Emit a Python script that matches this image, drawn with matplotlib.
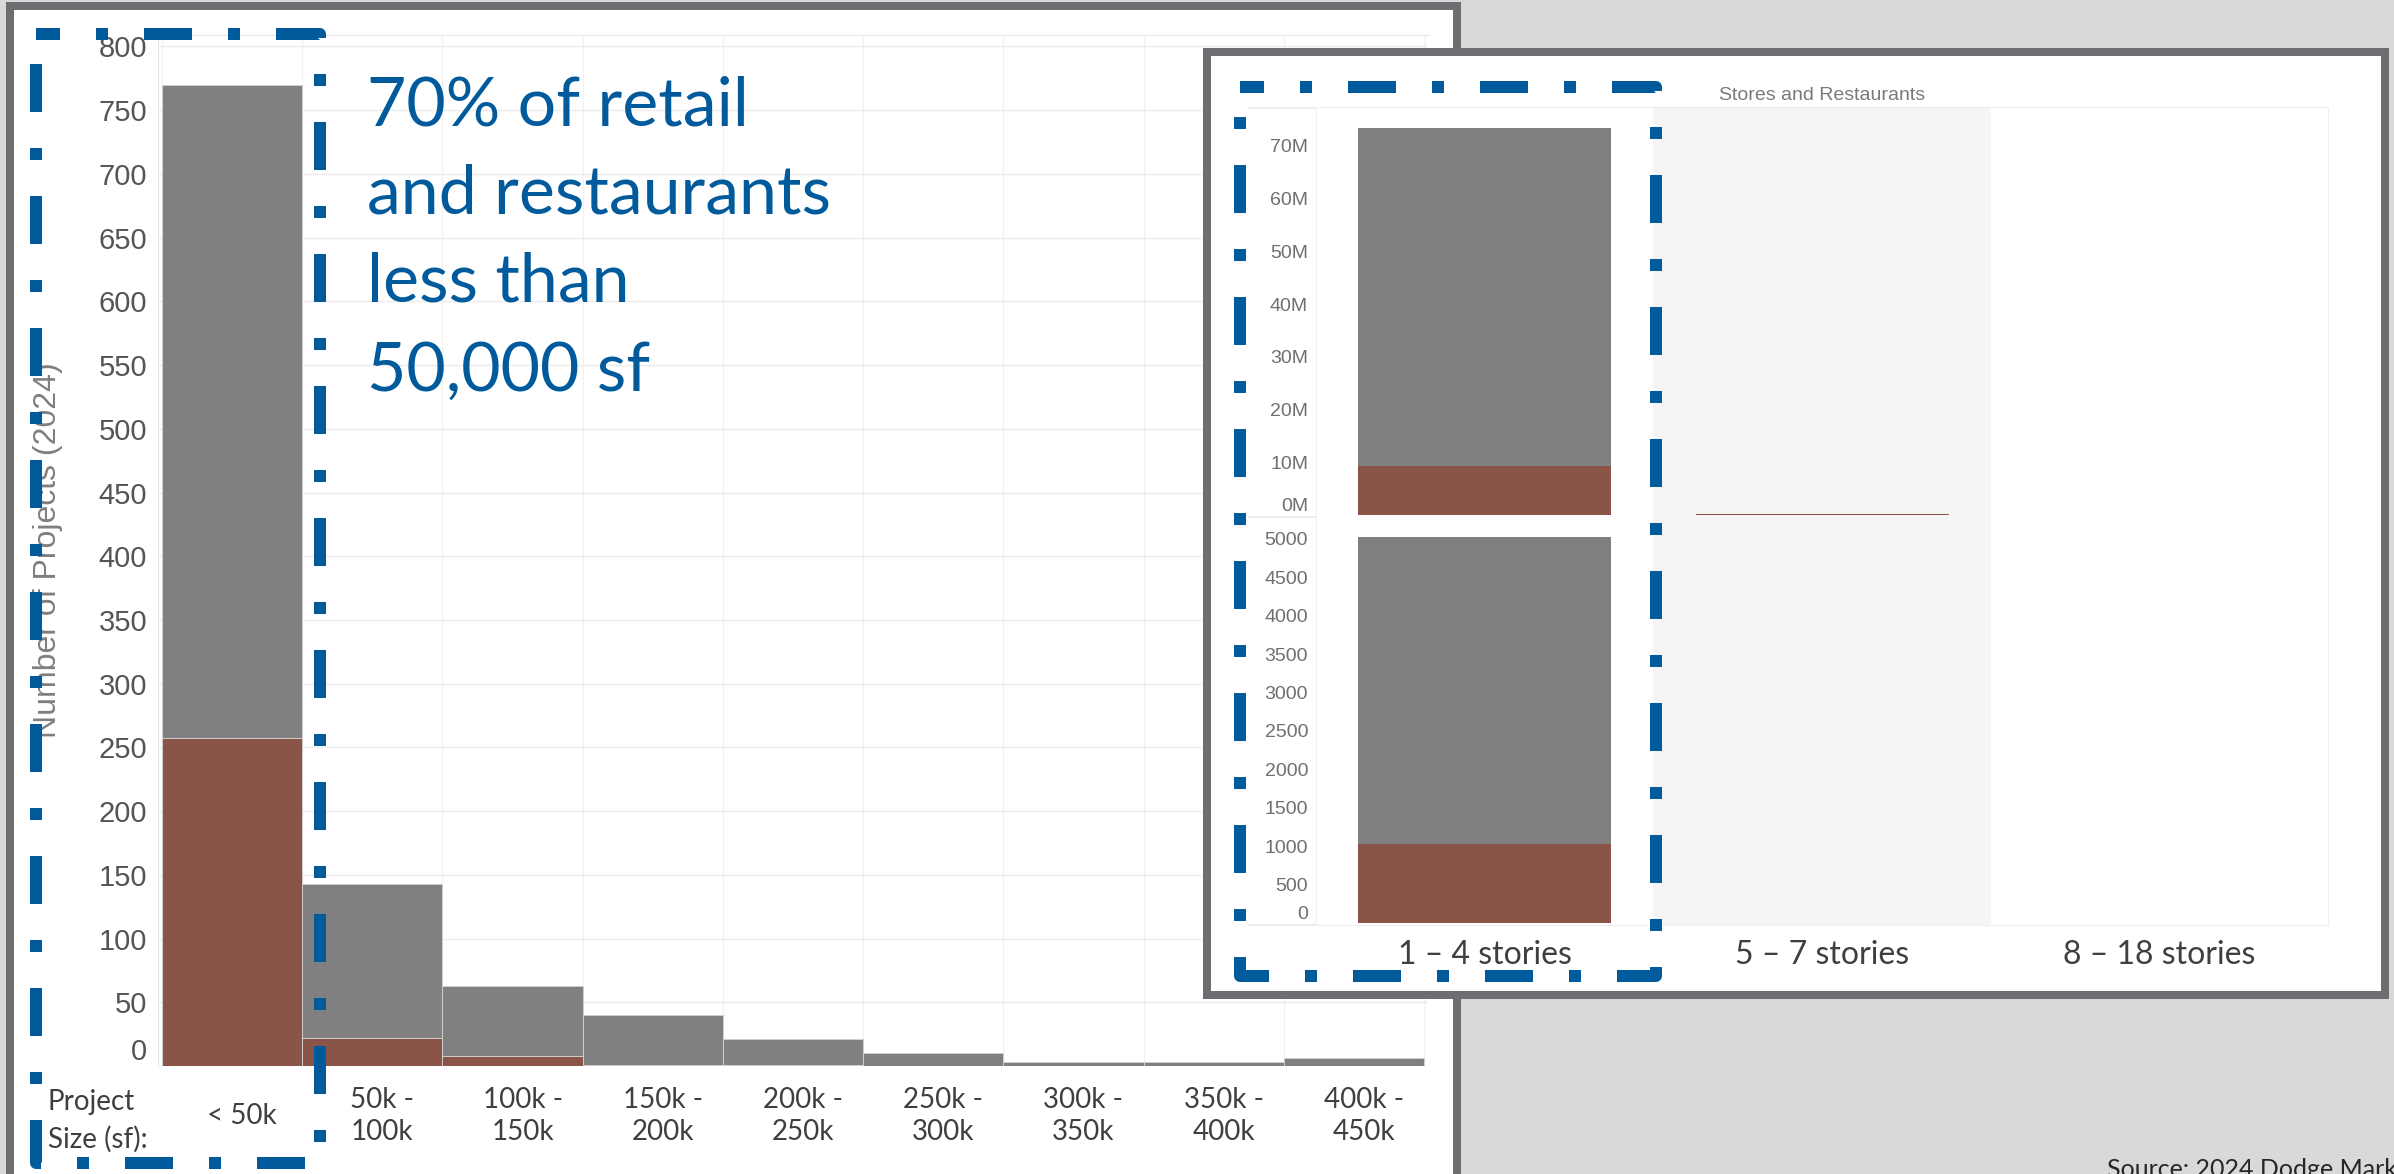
import matplotlib
matplotlib.use("Agg")
import matplotlib.pyplot as plt
import numpy as np
from matplotlib.patches import Rectangle
from matplotlib.ticker import FuncFormatter
from matplotlib.transforms import ScaledTranslation

W, H = 2394, 1174
DPI = 100
PT = 72 / DPI  # points per pixel

# --- data ---
size_bins = ["< 50k", "50k -\n100k", "100k -\n150k", "150k -\n200k", "200k -\n250k",
             "250k -\n300k", "300k -\n350k", "350k -\n400k", "400k -\n450k"]
all_projects = [770, 143, 63, 40, 21, 10, 3, 3, 6]
highlighted_projects = [257, 22, 8, 1, 1, 0, 0, 0, 0]
size_ticks = list(range(0, 801, 50))

story_bins = ["1 \u2013 4 stories", "5 \u2013 7 stories", "8 \u2013 18 stories"]
value_all = [73.4e6, 0.15e6, 0]
value_highlighted = [9.3e6, 0.15e6, 0]
value_ticks = [0, 10e6, 20e6, 30e6, 40e6, 50e6, 60e6, 70e6]
count_all = [5030, 0, 0]
count_highlighted = [1030, 0, 0]
count_ticks = list(range(0, 5001, 500))

callout_lines = ["70% of retail", "and restaurants", "less than", "50,000 sf"]

GRAY = "#808080"
RUST = "#8a5548"
BLUE = "#005a9c"
FRAME = "#6d6e71"
BACKDROP = "#d9d9d9"
GRID = "#ebebeb"


def box(x0, y0, x1, y1):
    return [x0 / W, 1 - y1 / H, (x1 - x0) / W, (y1 - y0) / H]


def canvas(figure, z):
    axis = figure.add_axes([0, 0, 1, 1], zorder=z)
    axis.set_xlim(0, W)
    axis.set_ylim(H, 0)
    axis.axis("off")
    return axis


def panel(axis, x0, y0, x1, y1):
    axis.add_patch(Rectangle((x0, y0), x1 - x0, y1 - y0, facecolor="white",
                             edgecolor=FRAME, linewidth=8 * PT, clip_on=False))


def dash_box(axis, x0, y0, x1, y1):
    axis.plot([x0, x1, x1, x0, x0], [y0, y0, y1, y1, y0], color=BLUE,
              linewidth=12 * PT, linestyle=(2, (4, 3, 1, 3)),
              dash_capstyle="butt", solid_capstyle="butt", clip_on=False)


figure = plt.figure(figsize=(W / DPI, H / DPI), dpi=DPI, facecolor=BACKDROP)

# back layer: main panel
back = canvas(figure, 0)
panel(back, 10, 6, 1457, 1220)

# --- main histogram ---
chart = figure.add_axes(box(158, 35, 1428, 1066), zorder=1)
positions = np.arange(len(size_bins))
upper = np.array(all_projects) - np.array(highlighted_projects)
chart.bar(positions, highlighted_projects, width=1, color=RUST,
          edgecolor="#cfcfcf", linewidth=0.7, zorder=3)
chart.bar(positions, upper, bottom=highlighted_projects, width=1, color=GRAY,
          edgecolor="#cfcfcf", linewidth=0.7, zorder=3)
chart.set_xlim(-0.529, 8.529)
chart.set_ylim(0, 809)
chart.set_yticks(size_ticks)
chart.set_xticks(positions)
chart.set_xticklabels(size_bins)
chart.set_xticks(np.arange(-0.5, len(size_bins), 1), minor=True)
chart.grid(axis="y", which="major", color=GRID, linewidth=1, zorder=0)
chart.grid(axis="x", which="minor", color="#f2f2f2", linewidth=1, zorder=0)
chart.tick_params(axis="both", which="both", length=0)
chart.tick_params(axis="y", labelsize=21, labelcolor="#555555", pad=11 * PT)
chart.tick_params(axis="x", labelsize=20, labelcolor="#3f3f3f", pad=50 * PT)
for label in chart.get_yticklabels():
    label.set_family("Liberation Sans")
chart.get_yticklabels()[0].set_va("bottom")
shift = ScaledTranslation(10 / DPI, 0, figure.dpi_scale_trans)
for label in chart.get_xticklabels():
    label.set_family("Lato")
    label.set_va("center")
    label.set_linespacing(1.3)
    label.set_transform(label.get_transform() + shift)
for side in ["right", "bottom"]:
    chart.spines[side].set_visible(False)
for side in ["top", "left"]:
    chart.spines[side].set_color("#e6e6e6")
chart.set_ylabel("Number of Projects (2024)", fontsize=23, color="#7f7f7f",
                 family="Liberation Sans")
chart.yaxis.set_label_coords(-0.075, 0.5)

# --- inset panel ---
inset_back = canvas(figure, 2)
panel(inset_back, 1207, 52, 2385, 995)
for y in [108, 517, 925]:
    inset_back.plot([1249, 2328], [y, y], color="#ececec", linewidth=2 * PT)

story_positions = np.arange(len(story_bins))
top = figure.add_axes(box(1316, 108, 2328, 517), zorder=3)
bottom = figure.add_axes(box(1316, 517, 2328, 925), zorder=3)

top.bar(story_positions, value_highlighted, width=0.75, color=RUST, zorder=3)
top.bar(story_positions, np.array(value_all) - np.array(value_highlighted),
        bottom=value_highlighted, width=0.75, color=GRAY, zorder=3)
top.set_ylim(-0.38e6, 77.2e6)
top.set_yticks(value_ticks)
top.yaxis.set_major_formatter(FuncFormatter(lambda v, _: f"{v / 1e6:.0f}M"))
top.set_xticks([])
top.set_title("Stores and Restaurants", fontsize=14, color="#7a7a7a",
              family="Liberation Sans", pad=6)

bottom.bar(story_positions, count_highlighted, width=0.75, color=RUST, zorder=3)
bottom.bar(story_positions, np.array(count_all) - np.array(count_highlighted),
           bottom=count_highlighted, width=0.75, color=GRAY, zorder=3)
bottom.set_ylim(-26, 5286)
bottom.set_yticks(count_ticks)
bottom.set_xticks(story_positions)
bottom.set_xticklabels(story_bins)

for axis in [top, bottom]:
    axis.set_xlim(-0.5, 2.5)
    axis.axvspan(0.5, 1.5, color="#f5f5f5", zorder=0, linewidth=0)
    axis.tick_params(axis="both", length=0)
    axis.tick_params(axis="y", labelsize=14, labelcolor="#6f6f6f", pad=8 * PT)
    for label in axis.get_yticklabels():
        label.set_family("Liberation Sans")
    axis.get_yticklabels()[0].set_va("bottom")
    for side in ["top", "bottom"]:
        axis.spines[side].set_visible(False)
    for side in ["left", "right"]:
        axis.spines[side].set_color("#efefef")

bottom.tick_params(axis="x", labelsize=23, labelcolor="#3f3f3f", pad=30 * PT)
for label in bottom.get_xticklabels():
    label.set_family("Lato")
    label.set_va("center")

# --- front layer: highlights and notes ---
front = canvas(figure, 4)
dash_box(front, 36, 34, 320, 1163)
dash_box(front, 1240, 87, 1656, 976)
for index, line in enumerate(callout_lines):
    front.text(367, 125 + index * 88.5, line, fontsize=49, color=BLUE,
               family="Lato", va="baseline", ha="left")
front.text(48, 1110, "Project", fontsize=20, color="#3f3f3f", family="Lato",
           va="baseline", ha="left")
front.text(48, 1148, "Size (sf):", fontsize=20, color="#3f3f3f", family="Lato",
           va="baseline", ha="left")
front.text(2107, 1158, "Source: 2024 Dodge Market Data", fontsize=18,
           color="#262626", family="Lato", va="top", ha="left")

figure.savefig("out.png", dpi=DPI, facecolor=BACKDROP)
plt.close(figure)
